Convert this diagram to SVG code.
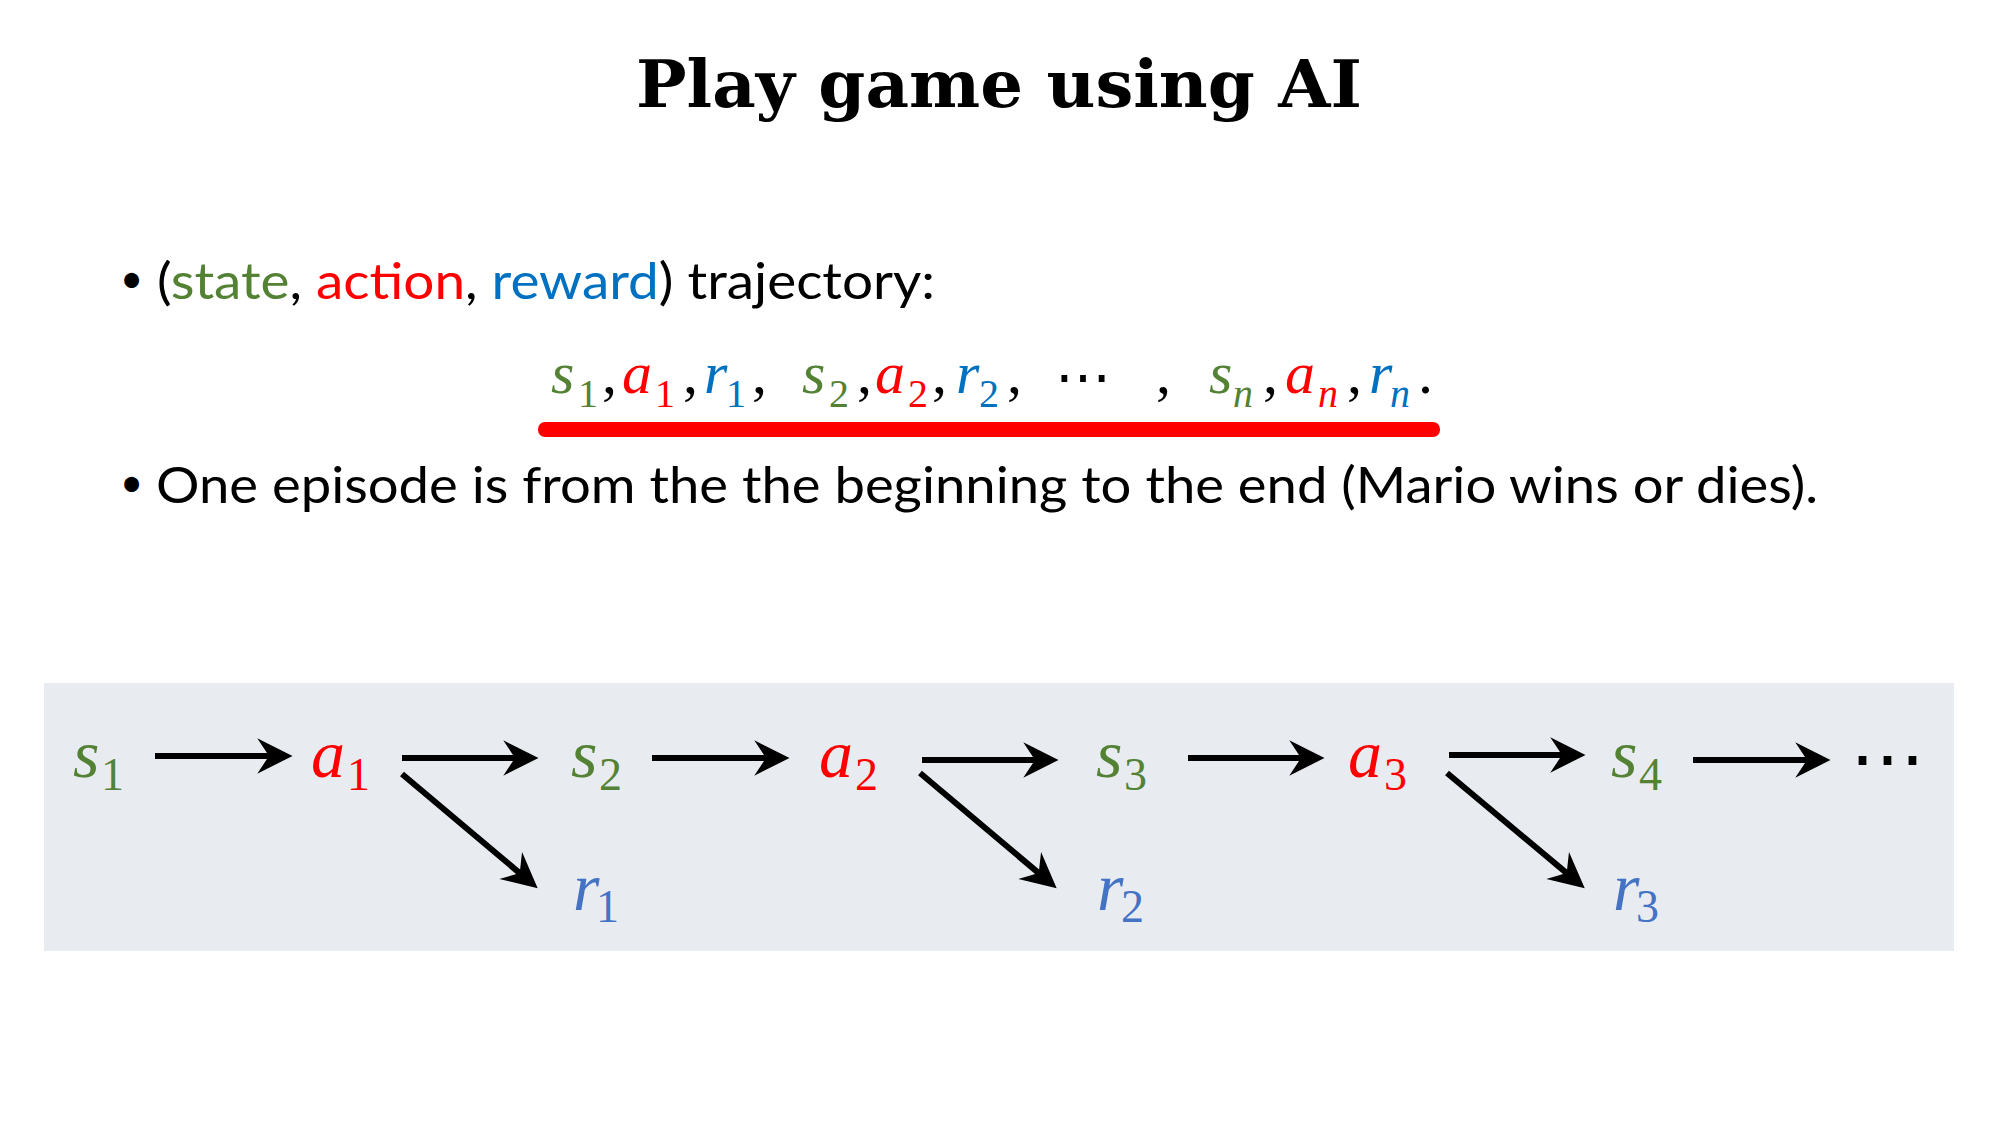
<svg xmlns="http://www.w3.org/2000/svg" width="2000" height="1125" viewBox="0 0 2000 1125">
  <defs>
    <style>
      .title { font-family: "DejaVu Serif", "Liberation Serif", serif; font-weight: bold; font-size: 66px; fill: #000; }
      .body { font-family: Lato, "Open Sans", "Liberation Sans", sans-serif; font-size: 51px; fill: #000; }
      .dot { font-family: Lato, "Open Sans", "Liberation Sans", sans-serif; font-size: 40px; fill: #000; }
      .m { font-family: "Liberation Serif", "DejaVu Serif", serif; font-style: italic; }
      .d { font-family: "Liberation Serif", "DejaVu Serif", serif; }
      .big { font-size: 68px; }
      .bigsub { font-size: 46px; }
      .mid { font-size: 60px; }
      .midsub { font-size: 40px; }
      .green { fill: #548235; }
      .red { fill: #FF0000; }
      .blue { fill: #0070C0; }
      .rblue { fill: #4472C4; }
      .blk { fill: #000; }
      .edge { stroke: #000; stroke-width: 6; fill: none; }
    </style>
    <!-- stealth arrowhead: line ends at the notch, tip sits 20px further on -->
    <marker id="head" markerUnits="userSpaceOnUse" markerWidth="40" markerHeight="40" refX="0" refY="0" viewBox="-12 -17 34 34" orient="auto" overflow="visible">
      <path d="M20,0 L-10,-15 L0,0 L-10,15 Z" fill="#000"/>
    </marker>
  </defs>

  <rect width="2000" height="1125" fill="#FFFFFF"/>

  <!-- heading -->
  <text id="title" class="title" x="999" y="107" text-anchor="middle" textLength="726" lengthAdjust="spacingAndGlyphs">Play game using AI</text>

  <!-- bullet list -->
  <g id="bullet1">
    <text class="dot" x="120" y="293">•</text>
    <text class="body" x="157" y="299" textLength="778" lengthAdjust="spacingAndGlyphs">(<tspan fill="#548235">state</tspan>, <tspan fill="#FF0000">action</tspan>, <tspan fill="#0070C0">reward</tspan>) trajectory:</text>
  </g>

  <!-- trajectory formula -->
  <g id="trajectory">
    <text class="m mid green" x="551" y="393">s</text><text class="d midsub green" x="578" y="407">1</text>
    <text class="d mid blk" x="602" y="393">,</text>
    <text class="m mid red" x="622" y="393">a</text><text class="d midsub red" x="655" y="407">1</text>
    <text class="d mid blk" x="683" y="393">,</text>
    <text class="m mid blue" x="704" y="393">r</text><text class="d midsub blue" x="726" y="407">1</text>
    <text class="d mid blk" x="752" y="393">,</text>
    <text class="m mid green" x="802" y="393">s</text><text class="d midsub green" x="829" y="407">2</text>
    <text class="d mid blk" x="857" y="393">,</text>
    <text class="m mid red" x="875" y="393">a</text><text class="d midsub red" x="908" y="407">2</text>
    <text class="d mid blk" x="932" y="393">,</text>
    <text class="m mid blue" x="956" y="393">r</text><text class="d midsub blue" x="979" y="407">2</text>
    <text class="d mid blk" x="1007" y="393">,</text>
    <text class="d blk" x="1083" y="396" font-size="56" font-family="DejaVu Serif, serif" text-anchor="middle">⋯</text>
    <text class="d mid blk" x="1156" y="393">,</text>
    <text class="m mid green" x="1209" y="393">s</text><text class="m midsub green" x="1233" y="407">n</text>
    <text class="d mid blk" x="1263" y="393">,</text>
    <text class="m mid red" x="1285" y="393">a</text><text class="m midsub red" x="1318" y="407">n</text>
    <text class="d mid blk" x="1347" y="393">,</text>
    <text class="m mid blue" x="1369" y="393">r</text><text class="m midsub blue" x="1390" y="407">n</text>
    <text class="d mid blk" x="1418" y="393">.</text>
  </g>
  <rect id="underline" x="538" y="422" width="902" height="15" rx="7" fill="#FF0000"/>

  <g id="bullet2">
    <text class="dot" x="120" y="497">•</text>
    <text class="body" x="156" y="503" textLength="1662" lengthAdjust="spacingAndGlyphs">One episode is from the the beginning to the end (Mario wins or dies).</text>
  </g>

  <!-- episode panel -->
  <rect id="panel" x="44" y="683" width="1910" height="268" fill="#E8ECF1"/>

  <g id="connectors">
    <line class="edge" x1="155" y1="756" x2="269" y2="756" marker-end="url(#head)"/>
    <line class="edge" x1="402" y1="758" x2="515" y2="758" marker-end="url(#head)"/>
    <line class="edge" x1="652" y1="758" x2="766" y2="758" marker-end="url(#head)"/>
    <line class="edge" x1="922" y1="760" x2="1035" y2="760" marker-end="url(#head)"/>
    <line class="edge" x1="1188" y1="758" x2="1301" y2="758" marker-end="url(#head)"/>
    <line class="edge" x1="1449" y1="755" x2="1562" y2="755" marker-end="url(#head)"/>
    <line class="edge" x1="1693" y1="760" x2="1807" y2="760" marker-end="url(#head)"/>
    <line class="edge" x1="402" y1="774" x2="519.7" y2="873.1" marker-end="url(#head)"/>
    <line class="edge" x1="920" y1="773" x2="1038.7" y2="873.1" marker-end="url(#head)"/>
    <line class="edge" x1="1447" y1="773" x2="1566.7" y2="873.1" marker-end="url(#head)"/>
  </g>

  <g id="s1"><text class="m big green" x="73" y="777">s</text><text class="d bigsub green" x="101" y="790">1</text></g>
  <g id="a1"><text class="m big red" x="311" y="777">a</text><text class="d bigsub red" x="347" y="790">1</text></g>
  <g id="s2"><text class="m big green" x="571" y="777">s</text><text class="d bigsub green" x="599" y="790">2</text></g>
  <g id="r1"><text class="m big rblue" x="573" y="910">r</text><text class="d bigsub rblue" x="596" y="922">1</text></g>
  <g id="a2"><text class="m big red" x="819" y="777">a</text><text class="d bigsub red" x="855" y="790">2</text></g>
  <g id="s3"><text class="m big green" x="1096" y="777">s</text><text class="d bigsub green" x="1124" y="790">3</text></g>
  <g id="r2"><text class="m big rblue" x="1097" y="910">r</text><text class="d bigsub rblue" x="1121" y="922">2</text></g>
  <g id="a3"><text class="m big red" x="1348" y="777">a</text><text class="d bigsub red" x="1384" y="790">3</text></g>
  <g id="s4"><text class="m big green" x="1611" y="777">s</text><text class="d bigsub green" x="1639" y="790">4</text></g>
  <g id="r3"><text class="m big rblue" x="1613" y="910">r</text><text class="d bigsub rblue" x="1636" y="922">3</text></g>
  <g id="more"><text class="d blk" x="1887" y="784" font-size="75" font-family="DejaVu Serif, serif" text-anchor="middle">⋯</text></g>
</svg>
